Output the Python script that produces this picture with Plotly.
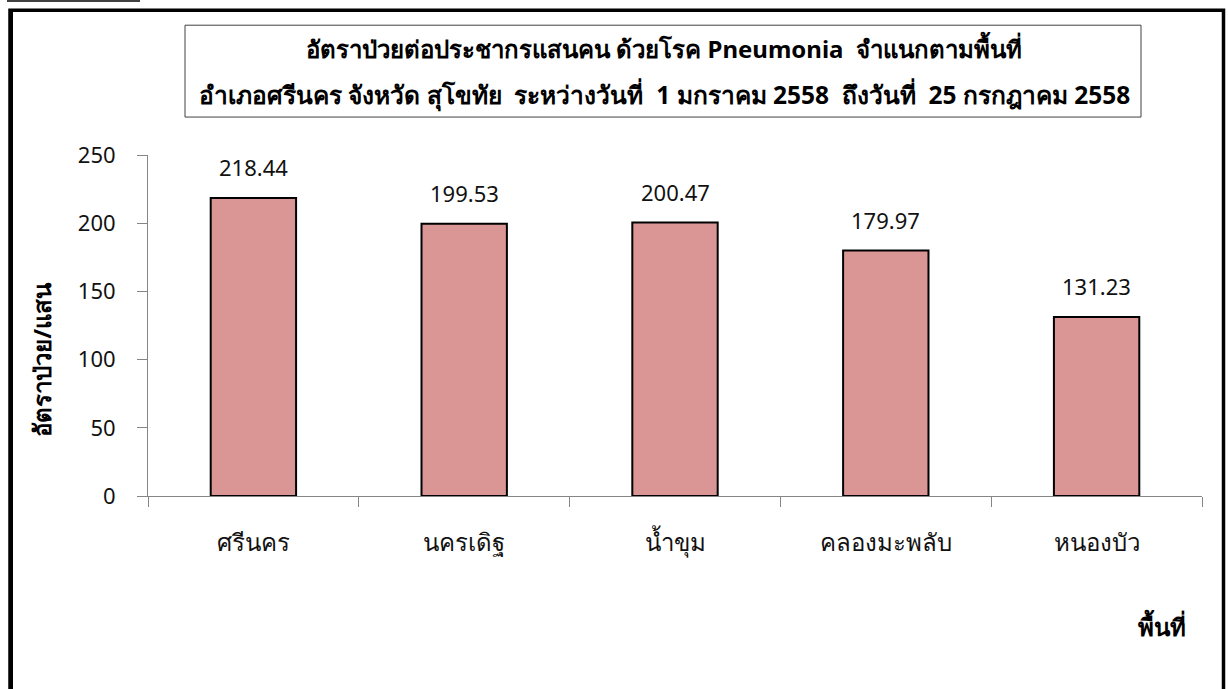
import plotly.graph_objects as go

categories = ["ศรีนคร", "นครเดิฐ", "น้ำขุม", "คลองมะพลับ", "หนองบัว"]
rates = [218.44, 199.53, 200.47, 179.97, 131.23]
y_ticks = [0, 50, 100, 150, 200, 250]
title_lines = [
    "อัตราป่วยต่อประชากรแสนคน ด้วยโรค Pneumonia  จำแนกตามพื้นที่",
    "อำเภอศรีนคร จังหวัด สุโขทัย  ระหว่างวันที่  1 มกราคม 2558  ถึงวันที่  25 กรกฎาคม 2558",
]
y_title = "อัตราป่วย/แสน"
x_title = "พื้นที่"

W, H = 1228, 689
L, R, T, B = 148, 1202, 155, 496.5
FONT = "Noto Sans, DejaVu Sans, sans-serif"

def px(x):
    return (x - L) / (R - L)

def py(y):
    return (B - y) / (B - T)

fig = go.Figure()
fig.add_trace(go.Bar(
    x=categories, y=rates,
    marker=dict(color="#D99694", line=dict(color="black", width=2)),
    width=0.405,
    hoverinfo="x+y",
))

for c, v in zip(categories, rates):
    fig.add_annotation(x=c, y=v, text=f"{v:.2f}", showarrow=False,
                       yanchor="bottom", yshift=14,
                       font=dict(size=22, color="#111111", family=FONT))

shapes = [
    dict(type="rect", xref="paper", yref="paper",
         x0=px(10), x1=px(1223.5), y0=py(10), y1=py(720),
         line=dict(color="black", width=3.5)),
    dict(type="line", xref="paper", yref="paper",
         x0=px(11.5), x1=px(11.5), y0=py(10), y1=py(720),
         line=dict(color="black", width=3)),
    dict(type="line", xref="paper", yref="paper",
         x0=px(7), x1=px(140), y0=py(0.7), y1=py(0.7),
         line=dict(color="black", width=1.5)),
    dict(type="rect", xref="paper", yref="paper",
         x0=px(185), x1=px(1141), y0=py(25), y1=py(117),
         line=dict(color="#404040", width=1)),
]
fig.update_layout(shapes=shapes)

for line, ypos, fs in zip(title_lines, [48, 95], [24, 24.5]):
    fig.add_annotation(xref="paper", yref="paper", x=px(664), y=py(ypos),
                       text=f"<b>{line}</b>", showarrow=False,
                       xanchor="center", yanchor="middle",
                       font=dict(size=fs, color="black", family=FONT))

fig.add_annotation(xref="paper", yref="paper", x=px(42), y=py(360),
                   text=f"<b>{y_title}</b>", showarrow=False, textangle=-90,
                   xanchor="center", yanchor="middle",
                   font=dict(size=24, color="black", family=FONT))
fig.add_annotation(xref="paper", yref="paper", x=px(1162), y=py(627),
                   text=f"<b>{x_title}</b>", showarrow=False,
                   xanchor="center", yanchor="middle",
                   font=dict(size=24, color="black", family=FONT))

fig.update_layout(
    width=W, height=H,
    margin=dict(l=L, r=W - R, t=T, b=H - B, pad=0),
    paper_bgcolor="white", plot_bgcolor="white",
    showlegend=False,
    font=dict(family=FONT, color="black"),
    xaxis=dict(
        showgrid=False, showline=True, linecolor="#868686", linewidth=1,
        ticks="outside", ticklen=10, tickcolor="#868686", tickson="boundaries",
        tickfont=dict(size=24, color="#111111", family=FONT),
        ticklabelstandoff=25, fixedrange=True,
    ),
    yaxis=dict(
        range=[0, 250], tickvals=y_ticks, showgrid=False, zeroline=False,
        showline=True, linecolor="#868686", linewidth=1,
        ticks="outside", ticklen=10, tickcolor="#868686",
        tickfont=dict(size=22, color="#111111", family=FONT),
        ticklabelstandoff=17, fixedrange=True,
    ),
)

fig.write_html("out.html", config={"displayModeBar": False},
               post_script="document.body.style.margin='0';")
